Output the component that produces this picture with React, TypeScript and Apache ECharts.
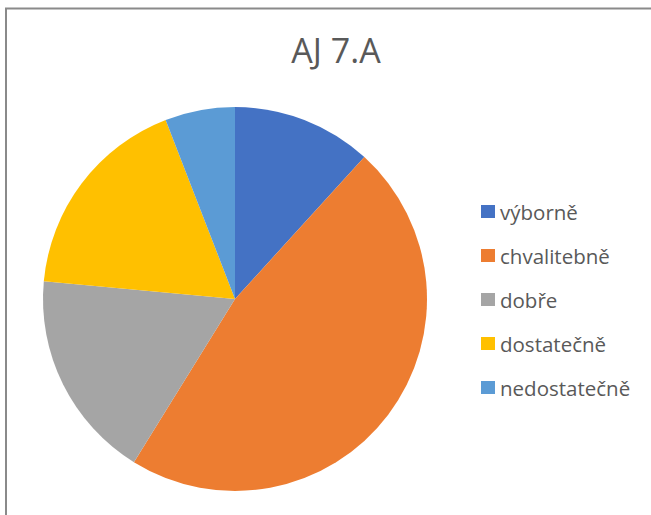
import React, { useEffect, useRef } from "react";
import * as echarts from "echarts";

const categories = ["výborně", "chvalitebně", "dobře", "dostatečně", "nedostatečně"];
const counts = [2, 8, 3, 3, 1];
const colors = ["#4472C4", "#ED7D31", "#A5A5A5", "#FFC000", "#5B9BD5"];
const title = "AJ 7.A";

export default function App() {
  const ref = useRef<HTMLDivElement>(null);
  useEffect(() => {
    if (!ref.current) return;
    const chart = echarts.init(ref.current, undefined, { renderer: "svg" });
    chart.setOption({
      animation: false,
      backgroundColor: "#ffffff",
      title: {
        text: title,
        left: 331,
        top: 28,
        textAlign: "center",
        textStyle: {
          fontFamily: "Open Sans, Liberation Sans, sans-serif",
          fontSize: 34,
          fontWeight: "normal",
          color: "#595959",
        },
      },
      legend: {
        orient: "vertical",
        left: 476,
        top: 196,
        itemWidth: 14,
        itemHeight: 13,
        itemGap: 23,
        icon: "rect",
        data: categories,
        textStyle: {
          fontFamily: "Open Sans, Liberation Sans, sans-serif",
          fontSize: 20.5,
          lineHeight: 21,
          color: "#595959",
        },
      },
      graphic: [
        {
          type: "rect",
          shape: { x: 6, y: 8.5, width: 660, height: 520 },
          style: { fill: "none", stroke: "#8a8a8a", lineWidth: 2 },
          silent: true,
          z: 100,
        },
      ],
      series: [
        {
          type: "pie",
          center: [235, 299],
          radius: 192,
          startAngle: 90,
          clockwise: true,
          label: { show: false },
          labelLine: { show: false },
          itemStyle: { borderWidth: 0 },
          data: categories.map((c, i) => ({
            name: c,
            value: counts[i],
            itemStyle: { color: colors[i] },
          })),
        },
      ],
    });
    return () => chart.dispose();
  }, []);
  return (
    <div
      ref={ref}
      style={{ position: "absolute", left: 0, top: 0, width: 651, height: 515 }}
    />
  );
}
